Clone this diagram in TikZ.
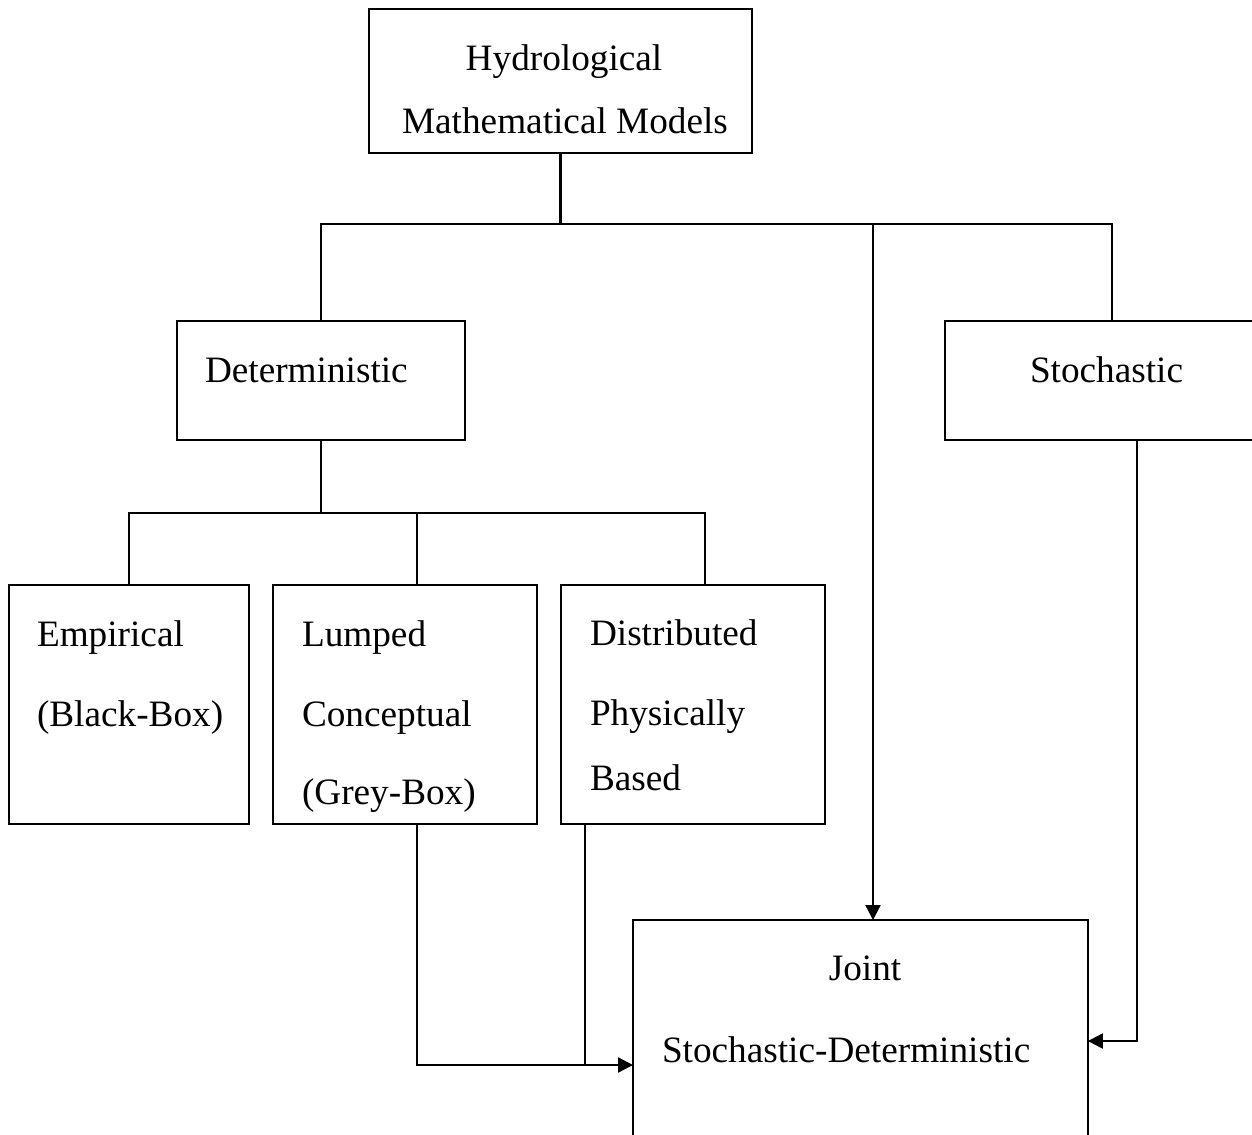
\documentclass[tikz,border=0pt]{standalone}
\usepackage{fontspec}
\setmainfont{Liberation Serif}
\usetikzlibrary{arrows.meta}
\begin{document}
\begin{tikzpicture}[x=0.02cm,y=-0.02cm,
  box/.style={draw=black, line width=1.3pt, inner sep=0pt, outer sep=0pt, anchor=north west},
  lbl/.style={inner sep=0pt, outer sep=0pt, font=\fontsize{21.2}{25}\selectfont},
  conn/.style={draw=black, line width=1.3pt},
  arr/.style={conn, -{Triangle[length=8.5pt,width=8.5pt]}}]
\useasboundingbox (0,0) rectangle (1252,1134);
% boxes
\node[box, minimum width=7.66cm, minimum height=2.88cm] (top) at (369,9) {};
\node[box, minimum width=5.76cm, minimum height=2.38cm] (det) at (177,321) {};
\node[box, minimum width=6.68cm, minimum height=2.38cm] (sto) at (945,321) {};
\node[box, minimum width=4.80cm, minimum height=4.78cm] (emp) at (9,585) {};
\node[box, minimum width=5.28cm, minimum height=4.78cm] (lum) at (273,585) {};
\node[box, minimum width=5.28cm, minimum height=4.78cm] (dis) at (561,585) {};
\node[box, minimum width=9.10cm, minimum height=5.60cm] (joint) at (633,920) {};
% texts
\node[lbl, anchor=base] (t1) at (564,70) {Hydrological};
\node[lbl, anchor=base] (t2) at (565,133) {Mathematical Models};
\node[lbl, anchor=base west] (t3) at (205,382) {Deterministic};
\node[lbl, anchor=base west] (t4) at (1030,382) {Stochastic};
\node[lbl, anchor=base west] (t5) at (37,646) {Empirical};
\node[lbl, anchor=base west] (t6) at (37,726) {(Black-Box)};
\node[lbl, anchor=base west] (t7) at (302,646) {Lumped};
\node[lbl, anchor=base west] (t8) at (302,726) {Conceptual};
\node[lbl, anchor=base west] (t9) at (302,804) {(Grey-Box)};
\node[lbl, anchor=base west] (t10) at (590,645) {Distributed};
\node[lbl, anchor=base west] (t11) at (590,725) {Physically};
\node[lbl, anchor=base west] (t12) at (590,790) {Based};
\node[lbl, anchor=base] (t13) at (865,980) {Joint};
\node[lbl, anchor=base west] (t14) at (662,1062) {Stochastic-Deterministic};
% junction coordinates
\coordinate (b1) at (top.south |- 0,224);
\coordinate (b2) at (873,224);
\coordinate (b3) at (det.south |- 0,513);
\coordinate (lumdn) at (417,824);
\coordinate (lumup) at (417,513);
\coordinate (disup) at (705,513);
\coordinate (disdn) at (585,824);
\coordinate (stodn) at (1137,440);
% connectors
\draw[conn] (top.south) -- (b1);
\draw[conn] (det.north) |- (b1) -| (sto.north);
\draw[arr] (b2) -- (b2 |- joint.north);
\draw[conn] (det.south) -- (b3);
\draw[conn] (emp.north) |- (b3) -| (disup) -- (disup |- dis.north);
\draw[conn] (lumup) -- (lumup |- lum.north);
\draw[arr] (lumdn) |- (joint.west |- 0,1065);
\draw[conn] (disdn) -- (disdn |- 0,1065);
\draw[arr] (stodn) |- (joint.east |- 0,1041);
\end{tikzpicture}
\end{document}
